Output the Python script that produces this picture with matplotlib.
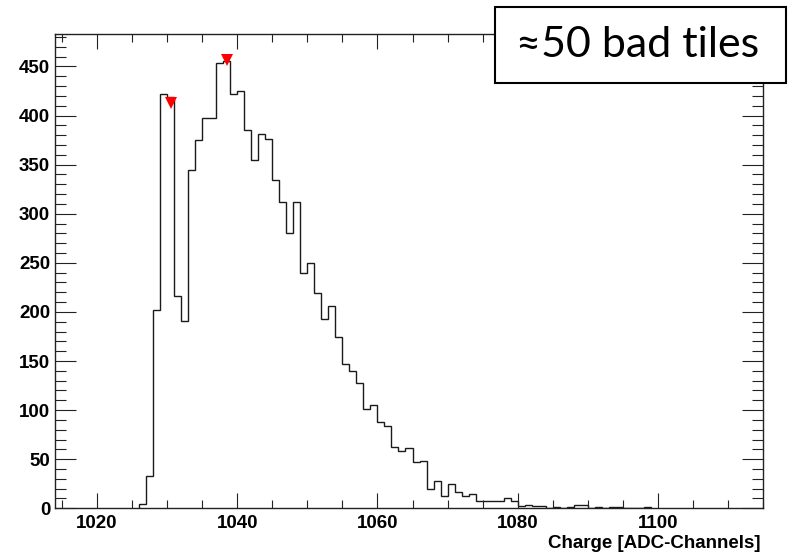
import numpy as np
import matplotlib
matplotlib.use('Agg')
import matplotlib.pyplot as plt
from matplotlib.ticker import MultipleLocator
from matplotlib.patches import Rectangle

# histogram contents, one count per 1-channel bin starting at 1026
first_bin = 1026
counts = [
    4, 33, 202, 422, 419, 216, 191, 344, 375, 397,
    397, 453, 456, 422, 425, 385, 355, 381, 376, 334,
    312, 280, 312, 240, 250, 219, 193, 206, 174, 147,
    140, 128, 101, 105, 88, 84, 62, 58, 61, 47,
    48, 20, 28, 13, 25, 17, 13, 15, 7, 7,
    7, 7, 10, 7, 2, 3, 2, 2, 0, 1,
    0, 1, 3, 3, 0, 1, 0, 1, 1, 0,
    0, 0, 1,
]

# peaks found by the peak search (red markers)
peak_x = [1030.5, 1038.5]
peak_y = [413, 457]

x_range = (1014, 1115)
y_range = (0, 483)
x_title = "Charge [ADC-Channels]"
note = "\u224850 bad tiles"

tick_font = ['Liberation Sans', 'DejaVu Sans']

fig = plt.figure(figsize=(7.88, 5.56), dpi=100)
ax = fig.add_axes([55 / 788, 1 - 508.3 / 556, 708 / 788, 474.3 / 556])

edges = np.arange(first_bin, first_bin + len(counts) + 1)
ax.stairs(counts, edges, color='#1a1a1a', linewidth=1.0, baseline=0)
ax.plot(peak_x, peak_y, 'v', color='red', markersize=8, markeredgewidth=0)

ax.set_xlim(*x_range)
ax.set_ylim(*y_range)

ax.xaxis.set_major_locator(MultipleLocator(20))
ax.xaxis.set_minor_locator(MultipleLocator(5))
ax.yaxis.set_major_locator(MultipleLocator(50))
ax.yaxis.set_minor_locator(MultipleLocator(10))

ax.tick_params(axis='x', which='both', direction='in', top=True, bottom=True,
               color='#222222', width=0.8)
ax.tick_params(axis='x', which='major', length=10.5, pad=5)
ax.tick_params(axis='x', which='minor', length=5.5)
ax.tick_params(axis='y', which='both', direction='in', left=True, right=True,
               color='#222222', width=0.8)
ax.tick_params(axis='y', which='major', length=15, pad=3.5)
ax.tick_params(axis='y', which='minor', length=8)

for lab in ax.get_xticklabels() + ax.get_yticklabels():
    lab.set_family(tick_font)
    lab.set_fontweight('bold')
    lab.set_fontsize(13.5)

for s in ax.spines.values():
    s.set_linewidth(1.0)
    s.set_color('#222222')

fig.text(761 / 788, 1 - 544 / 556, x_title, ha='right', va='center',
         family=tick_font, fontweight='bold', fontsize=13.5)

# annotation box in the top-right corner
box = Rectangle((495 / 788, 1 - 83.3 / 556), 291 / 788, 76.6 / 556,
                transform=fig.transFigure, facecolor='white', edgecolor='black',
                linewidth=1.5, zorder=5)
fig.add_artist(box)
fig.text(638 / 788, 1 - 45 / 556, note, ha='center', va='center',
         family=['Lato', 'DejaVu Sans'], fontsize=31, zorder=6)

fig.savefig('out.png', dpi=100)
